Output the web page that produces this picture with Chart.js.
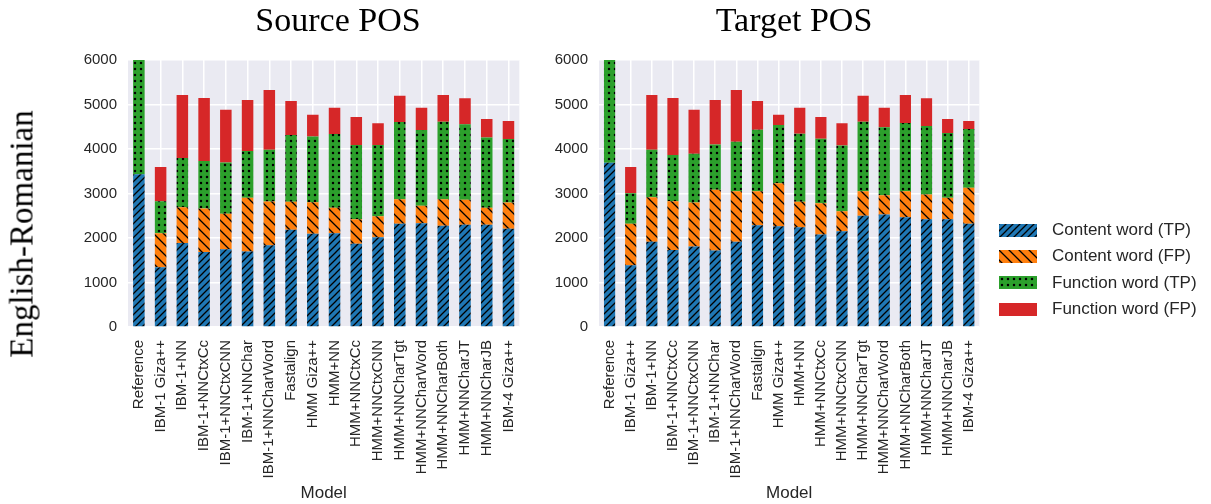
<!DOCTYPE html>
<html>
<head>
<meta charset="utf-8">
<script src="https://cdn.jsdelivr.net/npm/chart.js@4.4.1/dist/chart.umd.min.js"></script>
<style>
  html, body { margin: 0; padding: 0; background: #fff; }
  body { width: 1211px; height: 504px; position: relative; overflow: hidden; font-family: "Liberation Sans", Arial, sans-serif; }
  .cv { position: absolute; top: 0; }
  .ttl { position: absolute; top: 3px; transform: translateX(-50%); font-family: "Liberation Serif", "Times New Roman", serif; font-size: 34px; line-height: 34px; color: #000; white-space: nowrap; }
  #ylab { position: absolute; left: 22px; top: 234px; transform: translate(-50%, -50%) rotate(-90deg); font-family: "Liberation Serif", "Times New Roman", serif; font-size: 33px; color: #000; white-space: nowrap; }
  #legend { position: absolute; left: 999px; top: 217px; }
  .li { height: 26.3px; display: flex; align-items: center; white-space: nowrap; }
  .li canvas { width: 38px; height: 13px; margin-right: 15px; }
  .li span { font-size: 17px; color: #262626; }
</style>
</head>
<body>
<div class="cv" style="left:0px;width:540px;height:504px"><canvas id="c1"></canvas></div>
<div class="cv" style="left:540px;width:460px;height:504px"><canvas id="c2"></canvas></div>
<div class="ttl" id="t1" style="left:338px"></div>
<div class="ttl" id="t2" style="left:794px"></div>
<div id="ylab"></div>
<div id="legend"></div>
<script>
// ---- data ----
const models = ["Reference","IBM-1 Giza++","IBM-1+NN","IBM-1+NNCtxCc","IBM-1+NNCtxCNN","IBM-1+NNChar","IBM-1+NNCharWord","Fastalign","HMM Giza++","HMM+NN","HMM+NNCtxCc","HMM+NNCtxCNN","HMM+NNCharTgt","HMM+NNCharWord","HMM+NNCharBoth","HMM+NNCharJT","HMM+NNCharJB","IBM-4 Giza++"];
const seriesNames = ["Content word (TP)","Content word (FP)","Function word (TP)","Function word (FP)"];
const yTicks = [0,1000,2000,3000,4000,5000,6000];
const panelTitles = ["Source POS","Target POS"];
const rowLabel = "English-Romanian";
const xAxisLabel = "Model";

// Source POS
const srcContentTP  = [3430,1343,1890,1688,1748,1695,1838,2183,2093,2108,1868,2018,2318,2333,2273,2296,2296,2206];
const srcContentFP  = [0,   765, 803, 975, 795,1208, 983, 630, 713, 570, 555, 473, 555, 390, 600, 562, 382, 592];
const srcFunctionTP = [2570, 720,1103,1065,1155,1050,1162,1500,1477,1658,1665,1597,1733,1703,1741,1696,1583,1425];
const srcFunctionFP = [0,   765,1418,1418,1186,1148,1343, 766, 488, 593, 631, 488, 593, 503, 600, 585, 413, 406];

// Target POS
const tgtContentTP  = [3691,1388,1913,1733,1808,1718,1913,2288,2266,2243,2078,2153,2498,2528,2468,2423,2423,2318];
const tgtContentFP  = [0,   930,1005,1095, 990,1365,1140, 765, 967, 570, 705, 450, 555, 435, 585, 555, 480, 810];
const tgtFunctionTP = [2309, 690,1065,1035,1095,1020,1110,1380,1305,1530,1448,1478,1561,1523,1531,1538,1455,1320];
const tgtFunctionFP = [0,   585,1231,1283, 991, 998,1163, 646, 233, 586, 488, 495, 585, 443, 630, 623, 316, 181];

// ---- styles ----
const colors = ["#1f77b4","#ff7f0e","#2ca02c","#d62728"];
function makePattern(color, kind) {
  const s = kind === "fwd" ? 7 : (kind === "back" ? 10 : 6);
  const c = document.createElement("canvas");
  c.width = s; c.height = s;
  const g = c.getContext("2d");
  g.fillStyle = color; g.fillRect(0, 0, s, s);
  g.strokeStyle = "#000"; g.fillStyle = "#000"; g.lineWidth = 1.3;
  if (kind === "fwd") {
    g.beginPath();
    g.moveTo(-1, s + 1); g.lineTo(s + 1, -1);
    g.moveTo(-1, 1); g.lineTo(1, -1);
    g.moveTo(s - 1, s + 1); g.lineTo(s + 1, s - 1);
    g.stroke();
  } else if (kind === "back") {
    g.beginPath();
    g.moveTo(-1, -1); g.lineTo(s + 1, s + 1);
    g.moveTo(s - 1, -1); g.lineTo(s + 1, 1);
    g.moveTo(-1, s - 1); g.lineTo(1, s + 1);
    g.stroke();
  } else if (kind === "dot") {
    g.beginPath(); g.arc(3, 3, 1.25, 0, Math.PI * 2); g.fill();
  }
  return c;
}
const kinds = ["fwd","back","dot","none"];
function fillFor(i, ctx) {
  if (kinds[i] === "none") return colors[i];
  return ctx.createPattern(makePattern(colors[i], kinds[i]), "repeat");
}

const bgPlugin = {
  id: "bgArea",
  beforeDraw(chart) {
    const {ctx, chartArea: a} = chart;
    ctx.save(); ctx.fillStyle = "#EAEAF2";
    ctx.fillRect(a.left, a.top, a.right - a.left, a.bottom - a.top);
    ctx.restore();
  }
};

function makeChart(id, data, yWidth, padRight) {
  const canvas = document.getElementById(id);
  const ctx = canvas.getContext("2d");
  return new Chart(canvas, {
    type: "bar",
    data: {
      labels: models,
      datasets: data.map((d, i) => ({
        label: seriesNames[i],
        data: d,
        backgroundColor: fillFor(i, ctx),
        borderWidth: 0,
        barPercentage: 0.53,
        categoryPercentage: 1.0
      }))
    },
    options: {
      responsive: true,
      maintainAspectRatio: false,
      animation: false,
      layout: { padding: { left: 0, right: padRight, top: 60, bottom: 0 } },
      plugins: {
        legend: { display: false },
        tooltip: { enabled: false },
        title: { display: false }
      },
      scales: {
        x: {
          stacked: true,
          grid: { color: "#ffffff", lineWidth: 1.5, offset: false, drawTicks: false },
          border: { display: false },
          ticks: { autoSkip: false, maxRotation: 90, minRotation: 90, padding: 13, color: "#262626",
                   font: { family: "'Liberation Sans', Arial, sans-serif", size: 15 } },
          title: { display: true, text: xAxisLabel, color: "#262626", padding: { top: 0, bottom: 0 },
                   font: { family: "'Liberation Sans', Arial, sans-serif", size: 17 } },
          afterFit(scale) { scale.height = 177; }
        },
        y: {
          stacked: true, min: 0, max: 6000,
          afterBuildTicks(scale) { scale.ticks = yTicks.map(v => ({ value: v })); },
          grid: { color: "#ffffff", lineWidth: 1.5, drawTicks: false },
          border: { display: false },
          ticks: { padding: 11, color: "#262626", callback: v => String(v),
                   font: { family: "'Liberation Sans', Arial, sans-serif", size: 15 } },
          afterFit(scale) { scale.width = yWidth; }
        }
      }
    },
    plugins: [bgPlugin]
  });
}

makeChart("c1", [srcContentTP, srcContentFP, srcFunctionTP, srcFunctionFP], 128, 19);
makeChart("c2", [tgtContentTP, tgtContentFP, tgtFunctionTP, tgtFunctionFP], 59, 8);

document.getElementById("t1").textContent = panelTitles[0];
document.getElementById("t2").textContent = panelTitles[1];
document.getElementById("ylab").textContent = rowLabel;

// legend (HTML, swatches painted with the same fills)
const leg = document.getElementById("legend");
seriesNames.forEach((name, i) => {
  const row = document.createElement("div"); row.className = "li";
  const sw = document.createElement("canvas"); sw.width = 38; sw.height = 13;
  const g = sw.getContext("2d");
  g.fillStyle = fillFor(i, g); g.fillRect(0, 0, 38, 13);
  const sp = document.createElement("span"); sp.textContent = name;
  row.appendChild(sw); row.appendChild(sp); leg.appendChild(row);
});
</script>
</body>
</html>
